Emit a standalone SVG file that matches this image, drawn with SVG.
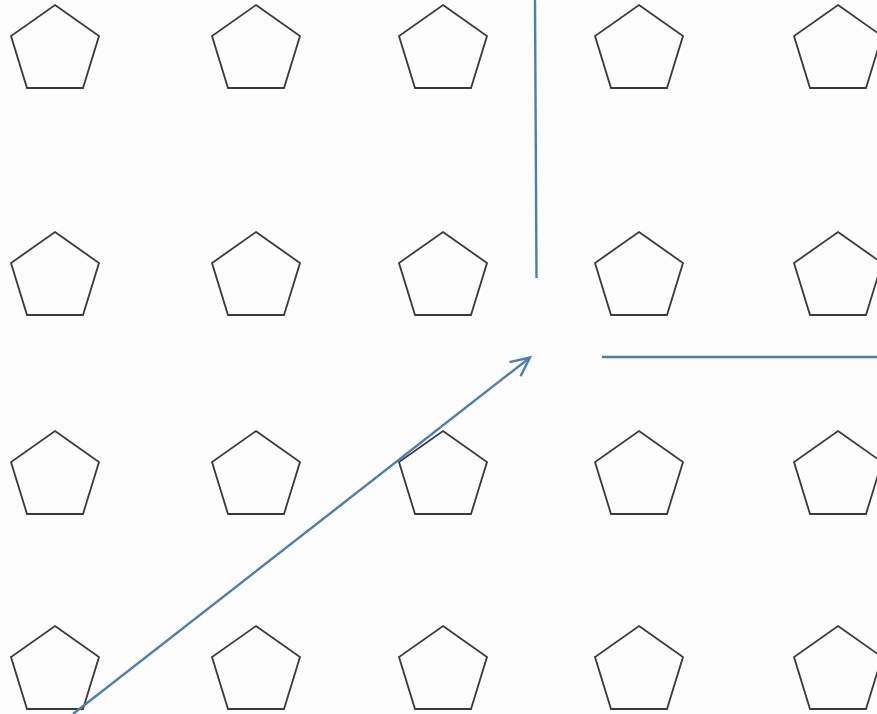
<svg xmlns="http://www.w3.org/2000/svg" width="877" height="714" viewBox="0 0 877 714">
<defs>
<style>
.p{fill:none;stroke:#3a3a3a;stroke-width:1.8;stroke-linejoin:miter}
.c{fill:none;stroke:#4a7ebb;stroke-width:2.4}
</style>
<polygon id="pent" class="p" points="0,0 44,31 28,83 -28,83 -44,31"/>
<marker id="ah" viewBox="0 0 24 24" refX="21" refY="12" markerWidth="24" markerHeight="24" markerUnits="userSpaceOnUse" orient="auto">
<path d="M2,3 L21,12 L2,21" fill="none" stroke="#4a7ebb" stroke-width="2.4"/>
</marker>
</defs>
<rect width="877" height="714" fill="#fdfdfd"/>
<g id="r1c1"><use href="#pent" x="55" y="5"/></g>
<g id="r1c2"><use href="#pent" x="256" y="5"/></g>
<g id="r1c3"><use href="#pent" x="443" y="5"/></g>
<g id="r1c4"><use href="#pent" x="639" y="5"/></g>
<g id="r1c5"><use href="#pent" x="838" y="5"/></g>
<g id="r2c1"><use href="#pent" x="55" y="232"/></g>
<g id="r2c2"><use href="#pent" x="256" y="232"/></g>
<g id="r2c3"><use href="#pent" x="443" y="232"/></g>
<g id="r2c4"><use href="#pent" x="639" y="232"/></g>
<g id="r2c5"><use href="#pent" x="838" y="232"/></g>
<g id="r3c1"><use href="#pent" x="55" y="431"/></g>
<g id="r3c2"><use href="#pent" x="256" y="431"/></g>
<g id="r3c3"><use href="#pent" x="443" y="431"/></g>
<g id="r3c4"><use href="#pent" x="639" y="431"/></g>
<g id="r3c5"><use href="#pent" x="838" y="431"/></g>
<g id="r4c1"><use href="#pent" x="55" y="626"/></g>
<g id="r4c2"><use href="#pent" x="256" y="626"/></g>
<g id="r4c3"><use href="#pent" x="443" y="626"/></g>
<g id="r4c4"><use href="#pent" x="639" y="626"/></g>
<g id="r4c5"><use href="#pent" x="838" y="626"/></g>
<g id="connectors">
<line class="c" x1="535" y1="0" x2="536.5" y2="278"/>
<line class="c" x1="602" y1="357" x2="877" y2="357"/>
<line class="c" x1="73" y1="714" x2="530" y2="357.5" marker-end="url(#ah)"/>
</g>
</svg>
